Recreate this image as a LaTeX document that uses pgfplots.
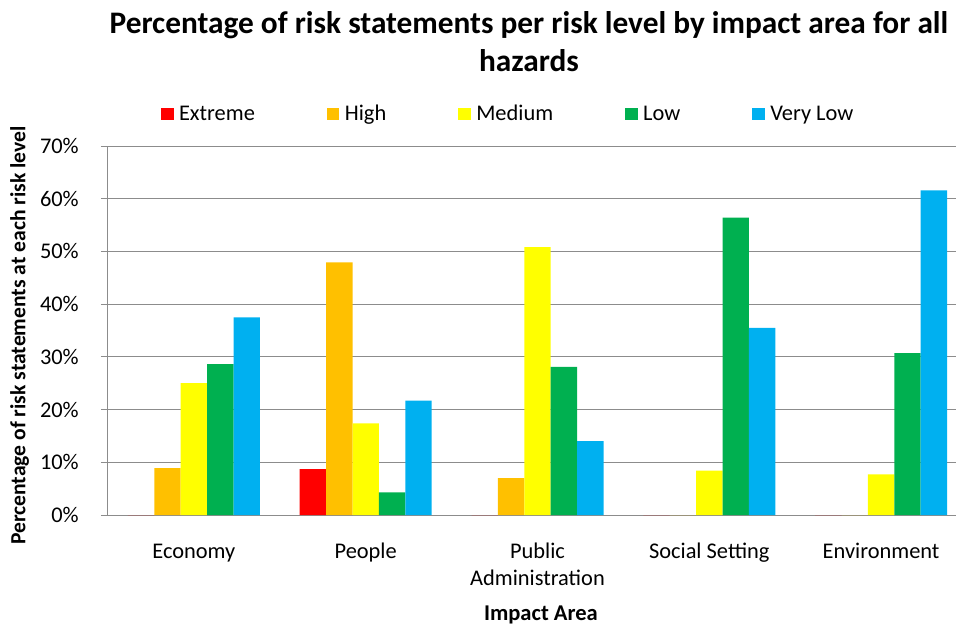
\documentclass[border=0pt]{standalone}
\usepackage{fontspec}
\setmainfont{Carlito}
\usepackage{pgfplots}
\usepackage{pgfplotstable}
\pgfplotsset{compat=1.18}

\definecolor{cExtreme}{HTML}{FF0000}
\definecolor{cHigh}{HTML}{FFC000}
\definecolor{cMedium}{HTML}{FFFF00}
\definecolor{cLow}{HTML}{00B050}
\definecolor{cVeryLow}{HTML}{00B0F0}
\definecolor{gridgray}{HTML}{8C8C8C}

% Share of risk statements (%) at each risk level, per impact area
\pgfplotstableread{
idx Extreme High Medium Low VeryLow
0   0.0     8.9  25.0   28.6 37.5
1   8.7     47.9 17.4   4.3  21.7
2   0.0     7.0  50.8   28.1 14.0
3   0.0     0.0  8.4    56.4 35.5
4   0.0     0.0  7.7    30.7 61.6
}\riskdata

\begin{document}
\begin{tikzpicture}
\begin{axis}[
  at={(0pt,0pt)}, anchor=south west,
  scale only axis, width=644.25pt, height=276.75pt,
  ybar=0pt, bar width=19.8pt,
  xmin=-0.5, xmax=4.5, ymin=0, ymax=70,
  enlarge x limits=false, enlarge y limits=false,
  xtick={0,1,2,3,4},
  xticklabels={Economy, People,
    {\begin{tabular}[t]{@{}c@{}}Public\\Administration\end{tabular}},
    Social Setting, Environment},
  xtick style={draw=none},
  ytick={0,10,...,70},
  yticklabel={\pgfmathprintnumber{\tick}\%},
  /pgf/number format/assume math mode=true,
  tick label style={font=\fontsize{16.8}{20}\selectfont},
  xticklabel style={anchor=base, yshift=-27.5pt},
  yticklabel style={anchor=east, inner sep=0pt, xshift=-16.5pt},
  tick align=outside, major tick length=5.25pt,
  ytick style={gridgray, line width=0.75pt},
  axis x line*=bottom, axis y line*=left,
  axis line style={gridgray, line width=0.75pt, -},
  ymajorgrids, grid style={gridgray, line width=0.75pt},
  ylabel={\bfseries Percentage of risk statements at each risk level},
  ylabel style={at={(axis description cs:-0.1030,0.4865)}, anchor=center,
    font=\fontsize{16.2}{19}\selectfont},
  xlabel={\bfseries Impact Area},
  xlabel style={at={(axis description cs:0.504,-0.2865)}, anchor=base,
    font=\fontsize{16.9}{20}\selectfont},
  legend columns=5,
  legend image code/.code={\fill[#1] (0pt,-0.2pt) rectangle (9.4pt,9.0pt);},
  legend style={
    at={(axis description cs:0.0617,1.0831)}, anchor=west,
    draw=none, fill=none, inner sep=0pt, outer sep=0pt,
    font=\fontsize{16.8}{20}\selectfont,
    cells={anchor=base west},
    nodes={inner sep=0pt, text height=10pt, text depth=3pt},
    /tikz/every odd column/.append style={column sep=4.1pt},
    /tikz/every even column/.append style={column sep=54pt},
  },
]
\addplot[fill=cExtreme, draw=none] table[x=idx, y=Extreme] {\riskdata};
\addplot[fill=cHigh, draw=none] table[x=idx, y=High] {\riskdata};
\addplot[fill=cMedium, draw=none] table[x=idx, y=Medium] {\riskdata};
\addplot[fill=cLow, draw=none] table[x=idx, y=Low] {\riskdata};
\addplot[fill=cVeryLow, draw=none] table[x=idx, y=VeryLow] {\riskdata};
\legend{Extreme, High, Medium, Low, Very Low}
\end{axis}
\node[anchor=base, font=\fontsize{23.5}{28}\selectfont\bfseries]
  at (315.75pt,361.3pt) {Percentage of risk statements per risk level by impact area for all};
\node[anchor=base, font=\fontsize{23.5}{28}\selectfont\bfseries]
  at (315.75pt,332.25pt) {hazards};
\pgfresetboundingbox
\path (-81pt,-82.5pt) rectangle (636pt,386.25pt);
\end{tikzpicture}
\end{document}
